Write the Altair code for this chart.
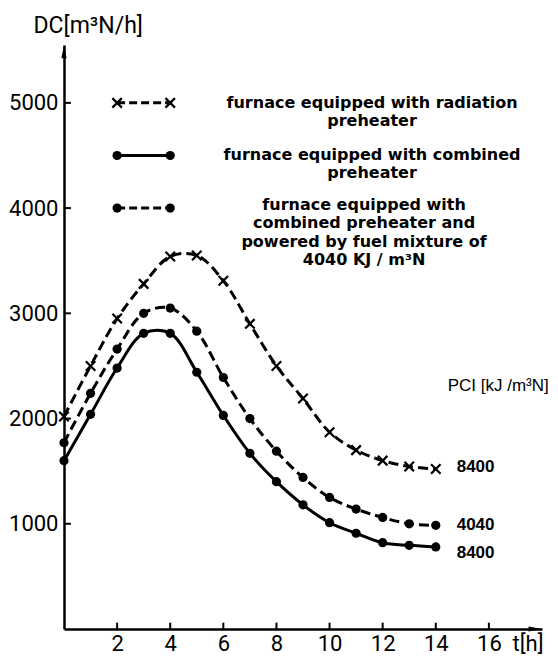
import altair as alt
import pandas as pd

# ---- data ----
hours = list(range(15))
radiation = [2020, 2500, 2950, 3280, 3540, 3550, 3310, 2900, 2500, 2190, 1870, 1700, 1600, 1545, 1520]
combined = [1600, 2040, 2480, 2810, 2810, 2440, 2030, 1670, 1400, 1180, 1010, 910, 820, 795, 780]
mixture = [1770, 2240, 2660, 3000, 3050, 2830, 2390, 2000, 1690, 1440, 1250, 1140, 1060, 1000, 985]

x_ticks = [2, 4, 6, 8, 10, 12, 14, 16]
y_ticks = [1000, 2000, 3000, 4000, 5000]

legend_x = [2.0, 4.0]
legend_y = [5000, 4500, 4000]
legend_lines = [
    ["furnace equipped with radiation", "preheater"],
    ["furnace equipped with combined", "preheater"],
    ["furnace equipped with", "combined preheater and",
     "powered by fuel mixture of", "4040 KJ / m³N"],
]
legend_text_x = [11.6, 11.6, 11.3]
legend_text_y = [[5000, 4830], [4500, 4330], [4030, 3855, 3680, 3505]]

end_labels = ["8400", "4040", "8400"]
end_label_y = [1535, 984, 718]
end_label_x = 15.5
pci_label = "PCI [kJ /m³N]"
pci_xy = (16.35, 2313)

X_MAX, Y_MAX = 18, 5550

# ---- tables ----
df_rad = pd.DataFrame({"x": hours, "y": radiation})
df_comb = pd.DataFrame({"x": hours, "y": combined})
df_mix = pd.DataFrame({"x": hours, "y": mixture})

xs = alt.Scale(domain=[0, X_MAX], nice=False, zero=False)
ys = alt.Scale(domain=[0, Y_MAX], nice=False, zero=False)

AXF = "Roboto"
xaxis = alt.Axis(values=x_ticks, ticks=False, grid=False, domainColor="black",
                 domainWidth=2.5, labelFont=AXF, labelFontSize=22,
                 labelColor="black", labelPadding=4, format="d",
                 title="t[h]", titleFont=AXF, titleFontSize=22,
                 titleFontWeight="normal", titleColor="black",
                 titleAlign="left", titleBaseline="middle",
                 titleX=448, titleY=14)
yaxis = alt.Axis(values=y_ticks, ticks=False, grid=False, domainColor="black",
                 domainWidth=2.5, labelFont=AXF, labelFontSize=22,
                 labelColor="black", labelPadding=6, format="d",
                 title="DC[m³N/h]", titleFont=AXF, titleFontSize=23,
                 titleFontWeight="normal", titleColor="black", titleAngle=0,
                 titleAlign="left", titleBaseline="middle",
                 titleX=-31, titleY=-20)

X = lambda: alt.X("x:Q", scale=xs, axis=xaxis)
Y = lambda: alt.Y("y:Q", scale=ys, axis=yaxis)

XSHAPE = "M-1,-1L1,1M-1,1L1,-1"


def markers(df, marker):
    if marker == "x":
        return alt.Chart(df).mark_point(shape=XSHAPE, size=90, filled=False,
                                        color="black", strokeWidth=2.2, opacity=1
                                        ).encode(x=X(), y=Y())
    return alt.Chart(df).mark_point(shape="circle", size=85, filled=True,
                                    color="black", opacity=1).encode(x=X(), y=Y())


def series(df, dash, marker):
    line = alt.Chart(df).mark_line(
        color="black", strokeWidth=3, interpolate="catmull-rom",
        **({"strokeDash": dash} if dash else {})
    ).encode(x=X(), y=Y())
    return [line, markers(df, marker)]


layers = []
layers += series(df_rad, [10, 5], "x")
layers += series(df_comb, None, "o")
layers += series(df_mix, [10, 5], "o")

# legend samples
styles = [([8, 4], "x"), (None, "o"), ([8, 4], "o")]
for (dash, marker), ly in zip(styles, legend_y):
    d = pd.DataFrame({"x": legend_x, "y": [ly, ly]})
    line = alt.Chart(d).mark_line(color="black", strokeWidth=3,
                                  **({"strokeDash": dash} if dash else {})
                                  ).encode(x=X(), y=Y())
    layers += [line, markers(d, marker)]

# legend text
rows = []
for lines, tx, tys in zip(legend_lines, legend_text_x, legend_text_y):
    for t, ty in zip(lines, tys):
        rows.append({"x": tx, "y": ty, "t": t})
df_lt = pd.DataFrame(rows)
layers.append(alt.Chart(df_lt).mark_text(
    font="DejaVu Sans", fontWeight="bold", fontSize=16, color="black",
    align="center", baseline="middle").encode(x=X(), y=Y(), text="t:N"))

# end labels
df_end = pd.DataFrame({"x": [end_label_x] * 3, "y": end_label_y, "t": end_labels})
layers.append(alt.Chart(df_end).mark_text(
    font="Liberation Sans", fontWeight="bold", fontSize=17, color="black",
    align="center", baseline="middle").encode(x=X(), y=Y(), text="t:N"))

df_pci = pd.DataFrame({"x": [pci_xy[0]], "y": [pci_xy[1]], "t": [pci_label]})
layers.append(alt.Chart(df_pci).mark_text(
    font="Liberation Sans", fontSize=17, color="black",
    align="center", baseline="middle").encode(x=X(), y=Y(), text="t:N"))

# inner tick marks
df_xt = pd.DataFrame({"x": x_ticks, "y": [0] * len(x_ticks), "y2": [60] * len(x_ticks)})
layers.append(alt.Chart(df_xt).mark_rule(color="black", strokeWidth=2).encode(
    x=X(), y=Y(), y2="y2:Q"))
df_yt = pd.DataFrame({"x": [0] * len(y_ticks), "x2": [0.26] * len(y_ticks), "y": y_ticks})
layers.append(alt.Chart(df_yt).mark_rule(color="black", strokeWidth=2).encode(
    x=X(), x2="x2:Q", y=Y()))

# arrow heads
df_ay = pd.DataFrame({"x": [0], "y": [Y_MAX - 65]})
layers.append(alt.Chart(df_ay).mark_point(
    shape="M0,-1L0.4,1L-0.4,1Z", size=170, filled=True, color="black", opacity=1
).encode(x=X(), y=Y()))
df_ax = pd.DataFrame({"x": [X_MAX - 0.26], "y": [0]})
layers.append(alt.Chart(df_ax).mark_point(
    shape="M1,0L-1,-0.4L-1,0.4Z", size=170, filled=True, color="black", opacity=1
).encode(x=X(), y=Y()))

chart = alt.layer(*layers).properties(
    width=478, height=584,
    autosize=alt.AutoSizeParams(type="none"),
    padding={"left": 56, "top": 37, "right": 8, "bottom": 27},
    background="white",
).configure_view(stroke=None)

chart.save("out.html", embed_options={"renderer": "svg", "actions": False})
